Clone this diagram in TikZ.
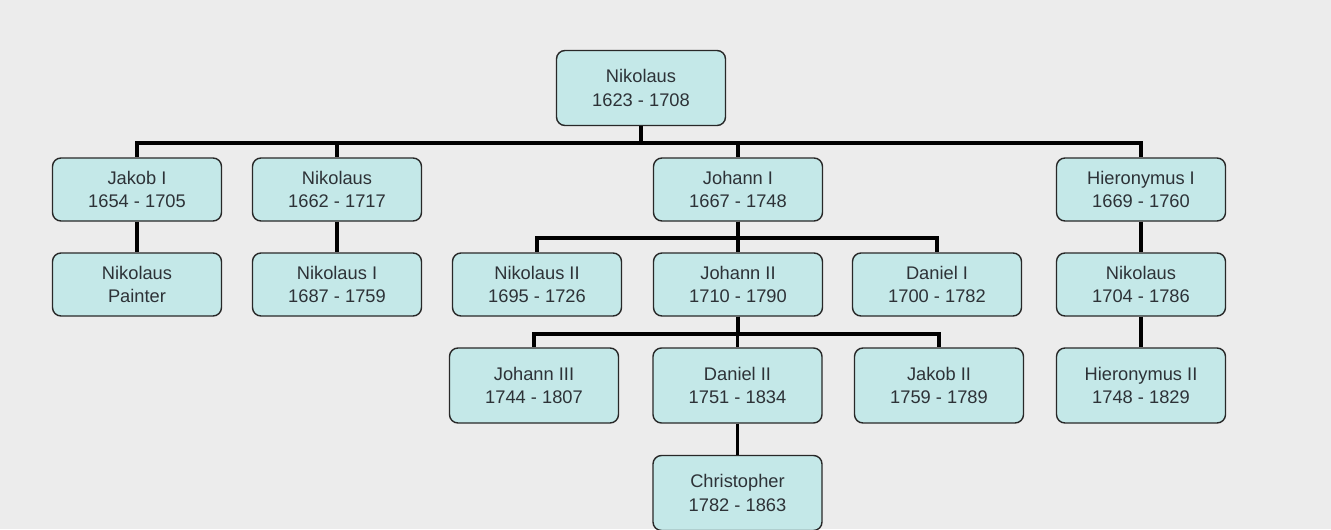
\documentclass[tikz,border=0pt]{standalone}
\usepackage{fontspec}
\setmainfont{Liberation Sans}
\definecolor{paper}{RGB}{236,236,236}
\definecolor{boxfill}{RGB}{196,232,232}
\definecolor{boxline}{RGB}{40,40,40}
\definecolor{txt}{RGB}{45,50,55}
\tikzset{
  person/.style={draw=boxline,line width=0.8pt,fill=boxfill,rounded corners=0.17cm,
    minimum width=3.38cm,minimum height=1.26cm,align=center,text=txt,
    font=\fontsize{10.4}{13.6}\selectfont},
  tall/.style={minimum height=1.5cm},
  link/.style={line width=2.2pt,black}
}
\begin{document}
\begin{tikzpicture}
\fill[paper] (0,0) rectangle (26.62,10.58);
\useasboundingbox (0,0) rectangle (26.62,10.58);
% Stammvater
\node[person,tall] (root) at (12.82,8.82) {Nikolaus\\1623 - 1708};
% Söhne
\node[person] (jakobI) at (2.74,6.79) {Jakob I\\1654 - 1705};
\node[person] (nikolausA) at (6.74,6.79) {Nikolaus\\1662 - 1717};
\node[person] (johannI) at (14.76,6.79) {Johann I\\1667 - 1748};
\node[person] (hieroI) at (22.82,6.79) {Hieronymus I\\1669 - 1760};
% Enkel
\node[person] (painter) at (2.74,4.89) {Nikolaus\\Painter};
\node[person] (nikolausI) at (6.74,4.89) {Nikolaus I\\1687 - 1759};
\node[person] (nikolausII) at (10.74,4.89) {Nikolaus II\\1695 - 1726};
\node[person] (johannII) at (14.76,4.89) {Johann II\\1710 - 1790};
\node[person] (danielI) at (18.74,4.89) {Daniel I\\1700 - 1782};
\node[person] (nikolausB) at (22.82,4.89) {Nikolaus\\1704 - 1786};
% Urenkel
\node[person,tall] (johannIII) at (10.68,2.87) {Johann III\\1744 - 1807};
\node[person,tall] (danielII) at (14.75,2.87) {Daniel II\\1751 - 1834};
\node[person,tall] (jakobII) at (18.78,2.87) {Jakob II\\1759 - 1789};
\node[person,tall] (hieroII) at (22.82,2.87) {Hieronymus II\\1748 - 1829};
\node[person,tall] (christoph) at (14.75,0.72) {Christopher\\1782 - 1863};
% Verbindungen
\foreach \c in {jakobI,nikolausA,johannI,hieroI}
  \draw[link] (root.south) -- ++(0,-0.33) -| (\c.north);
\foreach \c in {nikolausII,johannII,danielI}
  \draw[link] (johannI.south) -- ++(0,-0.32) -| (\c.north);
\foreach \c in {johannIII,danielII,jakobII}
  \draw[link] (johannII.south) -- ++(0,-0.34) -| (\c.north);
\draw[link] (jakobI) -- (painter);
\draw[link] (nikolausA) -- (nikolausI);
\draw[link] (hieroI) -- (nikolausB);
\draw[link] (nikolausB) -- (hieroII);
\draw[link] (danielII) -- (christoph);
\end{tikzpicture}
\end{document}
